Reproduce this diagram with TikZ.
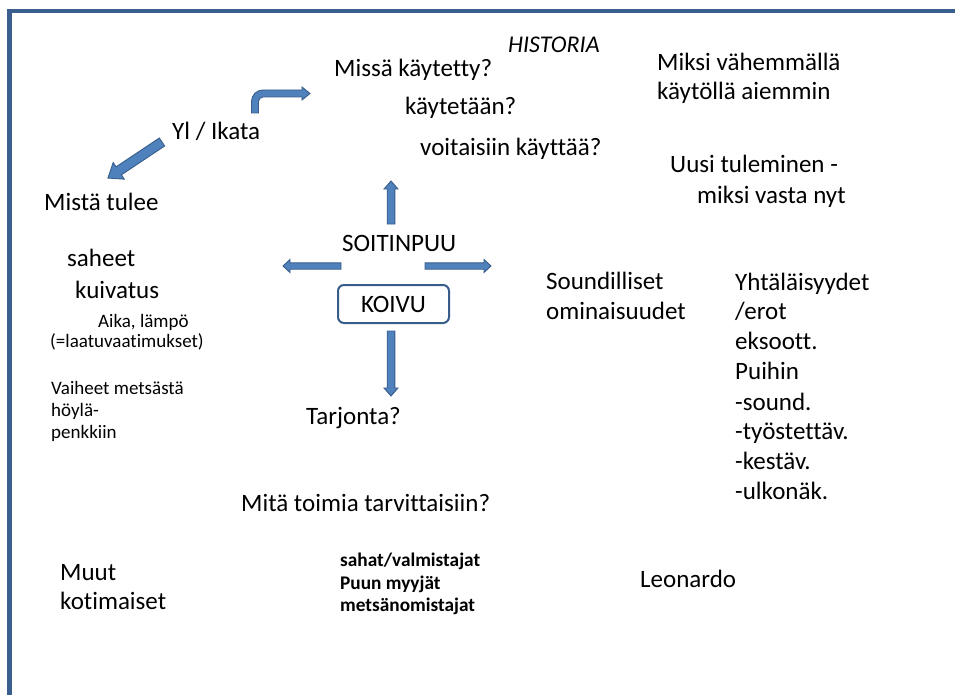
\documentclass[tikz,border=0pt]{standalone}
\usepackage{fontspec}
\setmainfont{Carlito}[Ligatures=CommonOff]
\definecolor{frameblue}{HTML}{3A5F8E}
\definecolor{arrowfill}{HTML}{4F81BD}
\definecolor{arrowline}{HTML}{385D8A}
\tikzset{
  txt/.style={anchor=base west, inner sep=0pt, font=\fontsize{25}{30}\selectfont},
  small/.style={anchor=base west, inner sep=0pt, font=\fontsize{19}{23}\selectfont},
  boldtxt/.style={anchor=base west, inner sep=0pt, font=\fontsize{19.3}{23}\selectfont\bfseries},
  arrowsty/.style={fill=arrowfill, draw=arrowline, line width=0.9pt, line join=miter},
  pics/blockarrow/.style n args={4}{code={
    \draw[arrowsty] (0,-#2) -- ({#1-#4},-#2) -- ({#1-#4},-#3) -- (#1,0)
      -- ({#1-#4},#3) -- ({#1-#4},#2) -- (0,#2) -- cycle;
  }}
}
\begin{document}
\begin{tikzpicture}[x=1pt,y=-1pt]
\useasboundingbox (0,0) rectangle (955,695);
\fill[white] (0,0) rectangle (955,695);
% frame
\fill[frameblue] (7.3,9) rectangle (955,13.3);
\fill[frameblue] (7.3,9) rectangle (12.3,695);

% texts
\node[anchor=base west, inner sep=0pt, font=\fontsize{24}{28}\selectfont\itshape] (hist) at (508,53) {HISTORIA};
\node[txt] (missa) at (334,77) {Missä käytetty?};
\node[txt] (kayt) at (405,115) {käytetään?};
\node[txt] (voit) at (420,156) {voitaisiin käyttää?};
\node[txt] (miksi1) at (657,71) {Miksi vähemmällä};
\node[txt] (miksi2) at (657,100) {käytöllä aiemmin};
\node[txt] (uusi1) at (670,173) {Uusi tuleminen -};
\node[txt] (uusi2) at (697,204) {miksi vasta nyt};
\node[txt] (yl) at (172,140) {Yl / Ikata};
\node[txt] (mista) at (44,211) {Mistä tulee};
\node[txt] (saheet) at (67,266) {saheet};
\node[txt] (kuiv) at (75,298) {kuivatus};
\node[small] (aika) at (98,327) {Aika, lämpö};
\node[small] (laatu) at (50,347) {(=laatuvaatimukset)};
\node[small] (vai1) at (51,394) {Vaiheet metsästä};
\node[small] (vai2) at (51,416) {höylä-};
\node[small] (vai3) at (51,438) {penkkiin};
\node[txt] (soitin) at (342,251) {SOITINPUU};
\node[draw=arrowline, line width=2pt, rounded corners=6pt, minimum width=111pt, minimum height=38pt,
      inner sep=0pt, font=\fontsize{25}{30}\selectfont] (koivu) at (393.5,304) {KOIVU};
\node[txt] (tarj) at (306,424) {Tarjonta?};
\node[txt] (sound1) at (546,289) {Soundilliset};
\node[txt] (sound2) at (546,319) {ominaisuudet};
\node[txt] (y1) at (735,290) {Yhtäläisyydet};
\node[txt] (y2) at (735,319) {/erot};
\node[txt] (y3) at (735,349) {eksoott.};
\node[txt] (y4) at (735,379) {Puihin};
\node[txt] (y5) at (735,410) {-sound.};
\node[txt] (y6) at (735,439) {-työstettäv.};
\node[txt] (y7) at (735,469) {-kestäv.};
\node[txt] (y8) at (735,499) {-ulkonäk.};
\node[txt] (mita) at (241,511) {Mitä toimia tarvittaisiin?};
\node[boldtxt] (b1) at (340,566) {sahat/valmistajat};
\node[boldtxt] (b2) at (340,589) {Puun myyjät};
\node[boldtxt] (b3) at (340,611) {metsänomistajat};
\node[txt] (muut1) at (60,580) {Muut};
\node[txt] (muut2) at (60,609) {kotimaiset};
\node[txt] (leo) at (640,587) {Leonardo};

% block arrows
\pic[rotate=90] at (391,224) {blockarrow={43}{3.8}{7}{8}};
\pic[rotate=-90] at (391,331) {blockarrow={65}{3.8}{7}{8}};
\pic[rotate=180] at (341,266) {blockarrow={58}{3.2}{6.5}{7}};
\pic at (425,266) {blockarrow={66}{3.2}{6.5}{7}};
\pic[rotate=213.7] at (162,142) {blockarrow={65}{4.8}{10}{13}};
% bent arrow
\draw[arrowsty] (251.5,113) -- (251.5,101.5) .. controls (251.5,95.15) and (256.65,90) .. (263,90)
  -- (302,90) -- (302,87) -- (310,93.5) -- (302,100) -- (302,97) -- (263,97)
  .. controls (260.5,97) and (258.5,99) .. (258.5,101.5) -- (258.5,113) -- cycle;
\end{tikzpicture}
\end{document}
